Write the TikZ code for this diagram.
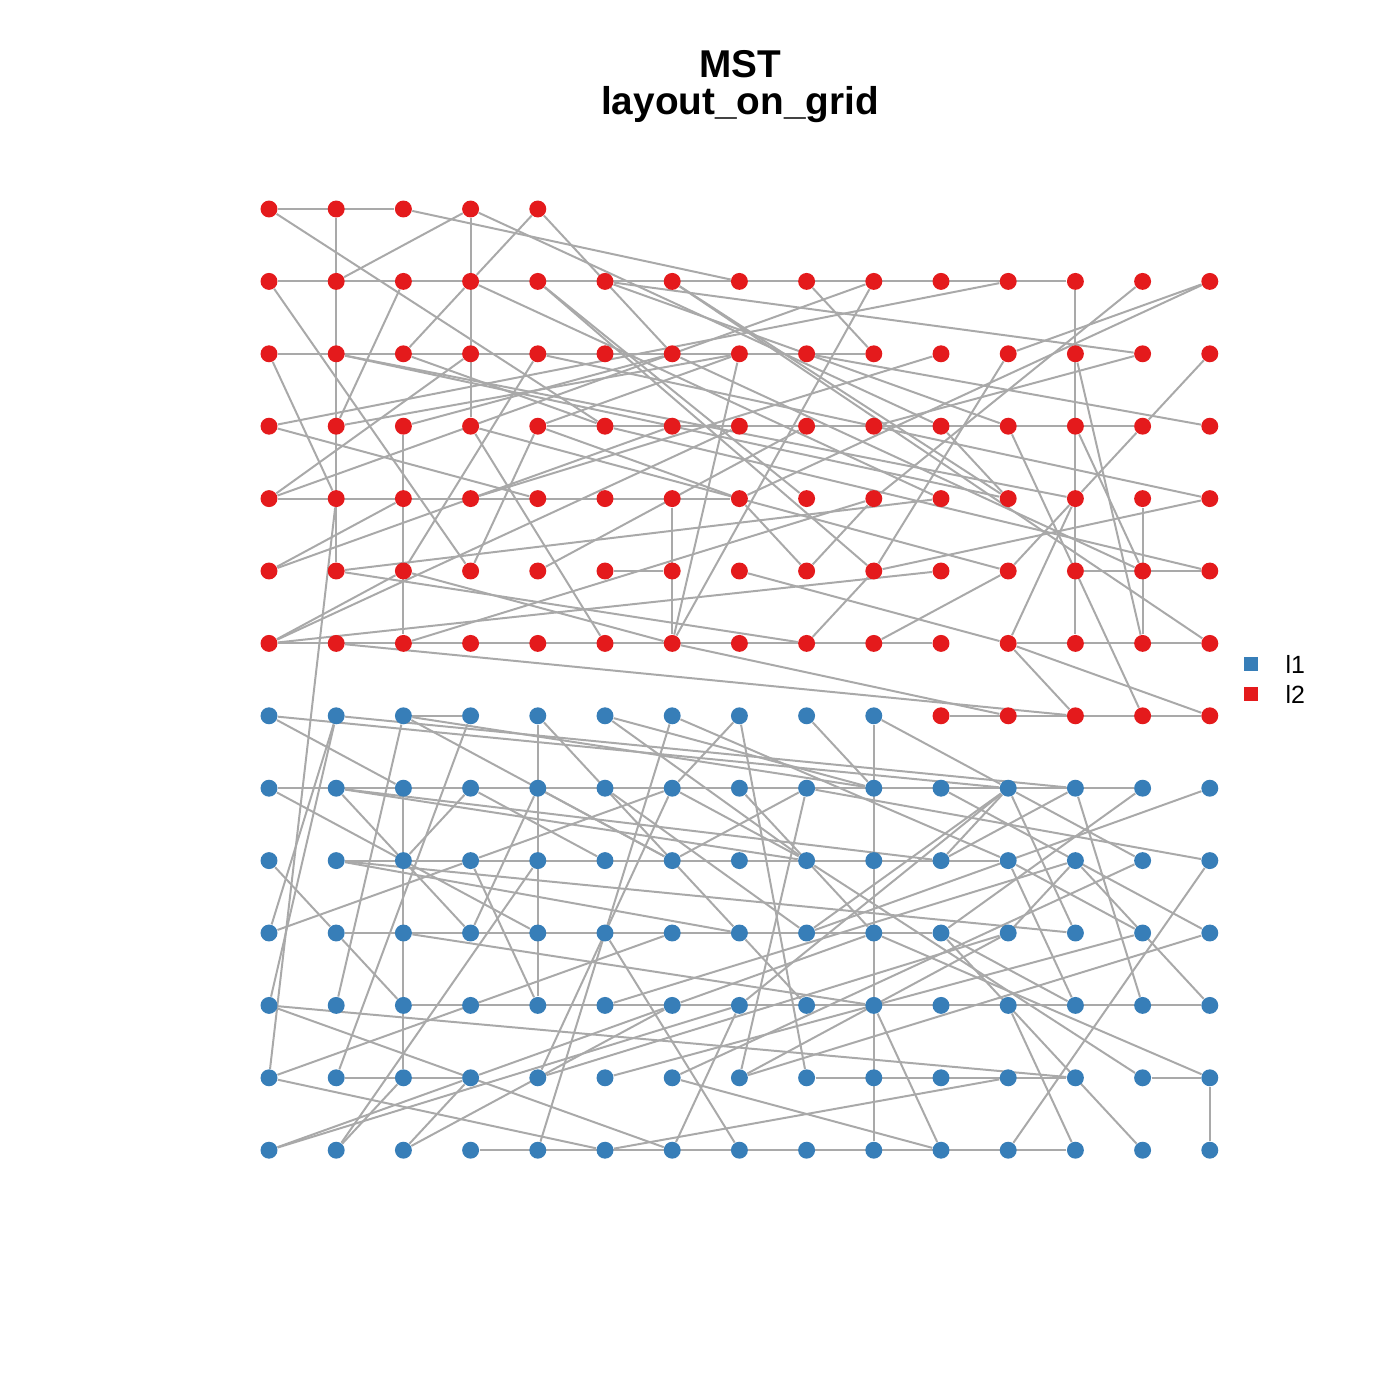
\documentclass[tikz,border=0pt]{standalone}
\usepackage{fontspec}
\setmainfont{Liberation Sans}
\usetikzlibrary{backgrounds}

\definecolor{setred}{HTML}{E41A1C}
\definecolor{setblue}{HTML}{377EB8}
\definecolor{edgegray}{HTML}{A9A9A9}

\tikzset{
  vtx/.style={circle, inner sep=0pt, minimum size=2.15mm},
  red vtx/.style={vtx, fill=setred},
  blue vtx/.style={vtx, fill=setblue},
  edge/.style={draw=edgegray, line width=0.72pt},
  keybox/.style={inner sep=0pt, minimum size=1.8mm},
  keylabel/.style={anchor=base west, inner sep=0pt, font=\fontsize{9}{11}\selectfont},
  headline/.style={anchor=base, inner sep=0pt, font=\bfseries\fontsize{14}{17}\selectfont}
}

\begin{document}
\begin{tikzpicture}[x=0.127mm, y=-0.127mm]
\useasboundingbox (0,0) rectangle (1400,1400);

\node[headline] (title) at (740,78) {MST};
\node[headline] (subtitle) at (740,115) {layout\_on\_grid};

% grid of vertices
\foreach \c in {0,...,4}
  \node[red vtx] (v-\c-0) at ({269+67.2*\c},209) {};
\foreach \r in {1,...,6}
  \foreach \c in {0,...,14}
    \node[red vtx] (v-\c-\r) at ({269+67.2*\c},{209+72.4*\r}) {};
\foreach \c in {0,...,9}
  \node[blue vtx] (v-\c-7) at ({269+67.2*\c},715.8) {};
\foreach \c in {10,...,14}
  \node[red vtx] (v-\c-7) at ({269+67.2*\c},715.8) {};
\foreach \r in {8,...,13}
  \foreach \c in {0,...,14}
    \node[blue vtx] (v-\c-\r) at ({269+67.2*\c},{209+72.4*\r}) {};

\begin{scope}[on background layer]
% rows and columns
\foreach \a/\b in {0-0/2-0, 0-1/12-1, 0-2/9-2, 4-3/13-3, 0-4/7-4, 5-5/6-5,
    12-5/14-5, 0-6/10-6, 11-6/14-6, 10-7/14-7, 1-0/1-5, 3-0/3-3, 2-3/2-6,
    6-4/6-6, 12-1/12-6, 13-4/13-6,
    0-8/13-8, 1-9/11-9, 1-10/10-10, 2-11/14-11, 1-12/3-12, 8-12/12-12,
    13-12/14-12, 3-13/12-13, 2-7/3-7, 9-7/9-13, 4-7/4-11, 2-8/2-12, 14-12/14-13}
  \draw[edge] (v-\a) -- (v-\b);
% l2
\foreach \a/\b in {3-0/1-1, 4-0/3-1, 4-0/6-2, 2-0/7-1, 0-0/5-3, 3-0/10-3,
    0-1/3-5, 2-1/1-3, 3-1/2-2, 3-1/10-4, 4-1/8-4, 4-1/9-5, 0-2/1-4, 2-3/6-2,
    0-4/3-2, 0-3/4-4, 0-3/11-1, 5-1/13-2, 5-1/11-3, 6-1/14-6, 8-1/9-2,
    9-1/6-6, 9-1/0-4, 13-1/9-4, 14-1/11-2, 14-1/7-4, 13-2/9-3, 14-2/13-3,
    12-2/13-6, 11-2/9-5, 10-2/3-4, 11-3/13-7, 12-3/13-5, 13-3/12-4, 8-2/14-3,
    10-3/11-4, 12-4/11-5, 12-4/11-6, 14-4/9-5, 4-2/14-4, 1-4/0-12, 0-5/6-3,
    0-5/2-4, 1-5/10-4, 1-5/8-6, 2-5/4-2, 2-5/6-6, 4-3/3-5, 3-3/5-6, 4-5/8-3,
    1-6/12-7, 6-6/11-7, 1-2/11-4, 1-2/12-4, 2-2/5-3, 1-3/7-2, 3-3/11-5,
    4-3/7-2, 4-3/7-4, 6-6/7-2, 7-5/11-6, 8-6/9-5, 8-5/9-4, 7-4/8-5,
    11-6/14-7, 11-6/12-7, 9-6/11-5, 0-6/7-3, 0-6/2-5, 2-6/9-4, 5-3/14-5,
    6-2/13-5, 6-1/11-4, 0-6/10-5}
  \draw[edge] (v-\a) -- (v-\b);
% l1
\foreach \a/\b in {0-7/2-8, 0-7/11-8, 1-7/0-10, 1-7/0-11, 1-7/12-8, 2-7/1-11,
    2-7/9-8, 2-7/6-9, 3-7/1-12, 4-7/7-10, 5-7/9-8, 5-7/8-9, 6-7/4-13,
    6-7/11-9, 7-7/6-8, 7-7/8-12, 8-7/9-8, 9-7/11-8, 0-8/4-10, 1-8/3-10,
    1-8/8-9, 1-8/10-9, 3-8/5-9, 3-8/2-9, 4-8/3-10, 3-9/6-8, 3-9/4-11,
    4-9/1-13, 11-8/13-9, 8-8/14-9, 0-10/3-9, 0-9/1-10, 1-10/2-11, 1-9/7-10,
    6-8/4-12, 6-8/8-9, 6-9/8-8, 5-8/8-10, 7-8/9-10, 8-8/7-12, 11-8/8-10,
    11-8/7-11, 11-8/10-9, 12-8/10-9, 12-8/13-11, 14-8/8-10, 11-9/13-10,
    11-9/12-11, 14-9/11-13, 9-11/10-13, 10-13/6-12, 11-11/12-13, 10-10/13-13,
    14-12/9-10, 13-12/8-9, 12-9/14-11, 10-10/13-8, 10-10/12-11, 11-10/12-9,
    11-10/7-12, 12-10/1-9, 12-10/11-8, 13-10/5-12, 14-10/7-12, 10-8/14-10,
    0-11/12-12, 0-11/6-13, 0-12/6-10, 0-12/5-13, 2-12/1-13, 3-12/6-11,
    3-12/2-13, 0-13/3-12, 0-13/7-11, 2-13/6-11, 5-10/7-13, 7-10/8-11,
    6-11/9-10, 5-13/11-12, 6-13/7-11, 4-8/6-9, 2-10/9-11, 5-11/12-9,
    4-12/11-10, 6-12/13-9}
  \draw[edge] (v-\a) -- (v-\b);
\end{scope}

% legend
\node[keybox, fill=setblue] (key-l1) at (1251,664) {};
\node[keybox, fill=setred] (key-l2) at (1251,694) {};
\node[keylabel] (lab-l1) at (1285,673) {l1};
\node[keylabel] (lab-l2) at (1285,703) {l2};
\end{tikzpicture}
\end{document}
